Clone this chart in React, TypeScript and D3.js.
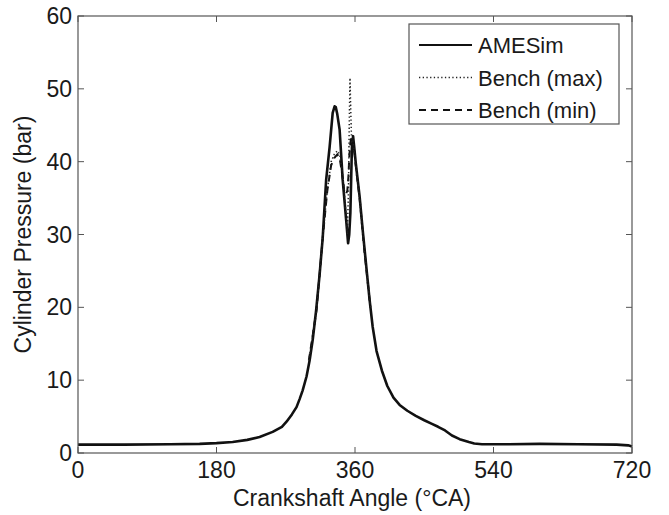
import React from "react";
import * as d3 from "d3";

// AMESim simulated cylinder pressure (bar) vs crank angle (deg)
const amesimAngle = [0, 60, 120, 158, 180, 201, 220, 236, 253, 265, 271, 278, 284, 288, 292, 297, 301, 305, 309.5, 314, 318, 322.5, 327, 331, 333.5, 335, 337, 340, 344, 348.5, 351, 352.5, 354, 355, 356, 357.5, 359, 361, 363.5, 366, 370, 375.5, 379, 383, 388, 395, 402, 410, 418, 428, 439, 450, 460, 468, 477, 486, 496, 508, 515, 525, 560, 600, 650, 700, 715, 720];
const amesimP = [1.15, 1.15, 1.2, 1.25, 1.35, 1.5, 1.8, 2.2, 2.9, 3.6, 4.3, 5.3, 6.3, 7.4, 8.6, 10.5, 12.7, 15.5, 19.6, 24.5, 29.5, 37.5, 42, 46.7, 47.6, 47.5, 46.5, 44.4, 37.5, 32, 28.8, 30, 33, 37.5, 42, 43.5, 42, 39.8, 37.5, 35.2, 30.6, 24.7, 21, 17.3, 14, 11.3, 9.2, 7.6, 6.6, 5.8, 5.1, 4.5, 4, 3.6, 3.1, 2.4, 1.9, 1.5, 1.3, 1.2, 1.2, 1.25, 1.2, 1.15, 1.05, 0.9];

// bench measurements around combustion
const benchAngle = [300, 310, 318, 324, 329, 333, 337, 340, 343, 346, 348, 350, 351.5, 352.5, 353.5, 354.5, 355.5, 357, 359, 362, 366, 372, 380];
const benchMax = [12.7, 19.6, 29.5, 36, 40, 41, 41.5, 41, 39, 36, 33, 30, 36, 45, 51.5, 47, 43, 43, 41.5, 38.5, 35, 28, 20];
const benchMin = [12.7, 19.6, 29.5, 36, 39.5, 40.5, 41, 40.5, 38.5, 36, 35.5, 36, 38, 40.5, 42, 43, 43.5, 43, 41.5, 38.5, 35, 28, 20];

const xTicks = [0, 180, 360, 540, 720];
const yTicks = [0, 10, 20, 30, 40, 50, 60];
const legendLabels = ["AMESim", "Bench (max)", "Bench (min)"];

const W = 669;
const H = 515;
const left = 78, right = 632, top = 16, bottom = 453;

export default function App() {
  const x = d3.scaleLinear().domain([0, 720]).range([left, right]);
  const y = d3.scaleLinear().domain([0, 60]).range([bottom, top]);

  const line = d3
    .line<[number, number]>()
    .x((d) => x(d[0]))
    .y((d) => y(d[1]));

  const amesim = line(amesimAngle.map((a, i) => [a, amesimP[i]]));
  const bMax = line(benchAngle.map((a, i) => [a, benchMax[i]]));
  const bMin = line(benchAngle.map((a, i) => [a, benchMin[i]]));

  const font = "'Liberation Sans', Arial, Helvetica, sans-serif";
  const axisColor = "#555";
  const txt = "#1a1a1a";
  const tickLen = 6;

  const styles = [
    { dash: undefined, width: 2.6, color: "#111" },
    { dash: "1.3,2.4", width: 1.5, color: "#222" },
    { dash: "7,5", width: 2, color: "#111" },
  ];

  return (
    <svg width={W} height={H} style={{ display: "block", position: "absolute", left: 0, top: 0, background: "#fff" }}>
      <rect x={0} y={0} width={W} height={H} fill="#fff" />
      {/* data */}
      <path d={amesim ?? ""} fill="none" stroke={styles[0].color} strokeWidth={styles[0].width} strokeLinejoin="round" />
      <path d={bMin ?? ""} fill="none" stroke={styles[2].color} strokeWidth={styles[2].width} strokeDasharray={styles[2].dash} />
      <path d={bMax ?? ""} fill="none" stroke={styles[1].color} strokeWidth={styles[1].width} strokeDasharray={styles[1].dash} />

      {/* axes box */}
      <rect x={left} y={top} width={right - left} height={bottom - top} fill="none" stroke={axisColor} strokeWidth={1.2} />
      {xTicks.map((t) => (
        <g key={"x" + t}>
          <line x1={x(t)} x2={x(t)} y1={bottom} y2={bottom - tickLen} stroke={axisColor} />
          <line x1={x(t)} x2={x(t)} y1={top} y2={top + tickLen} stroke={axisColor} />
          <text x={x(t)} y={478} textAnchor="middle" fontFamily={font} fontSize={23} fill={txt}>
            {t}
          </text>
        </g>
      ))}
      {yTicks.map((t) => (
        <g key={"y" + t}>
          <line x1={left} x2={left + tickLen} y1={y(t)} y2={y(t)} stroke={axisColor} />
          <line x1={right} x2={right - tickLen} y1={y(t)} y2={y(t)} stroke={axisColor} />
          <text x={72} y={y(t) + 8} textAnchor="end" fontFamily={font} fontSize={23} fill={txt}>
            {t}
          </text>
        </g>
      ))}

      <text x={(left + right) / 2 - 3} y={506} textAnchor="middle" fontFamily={font} fontSize={23} fill={txt}>
        Crankshaft Angle (°CA)
      </text>
      <text
        transform={`translate(31, ${(top + bottom) / 2}) rotate(-90)`}
        textAnchor="middle"
        fontFamily={font}
        fontSize={23}
        fill={txt}
      >
        Cylinder Pressure (bar)
      </text>

      {/* legend */}
      <rect x={409} y={24} width={210} height={100} fill="#fff" stroke={axisColor} strokeWidth={1.2} />
      {legendLabels.map((l, i) => {
        const cy = 45 + i * 32.5;
        return (
          <g key={l}>
            <line x1={419} x2={472} y1={cy} y2={cy} stroke={styles[i].color} strokeWidth={i === 0 ? 2.2 : styles[i].width} strokeDasharray={styles[i].dash} />
            <text x={478} y={cy + 8} fontFamily={font} fontSize={22} fill={txt}>
              {l}
            </text>
          </g>
        );
      })}
    </svg>
  );
}
